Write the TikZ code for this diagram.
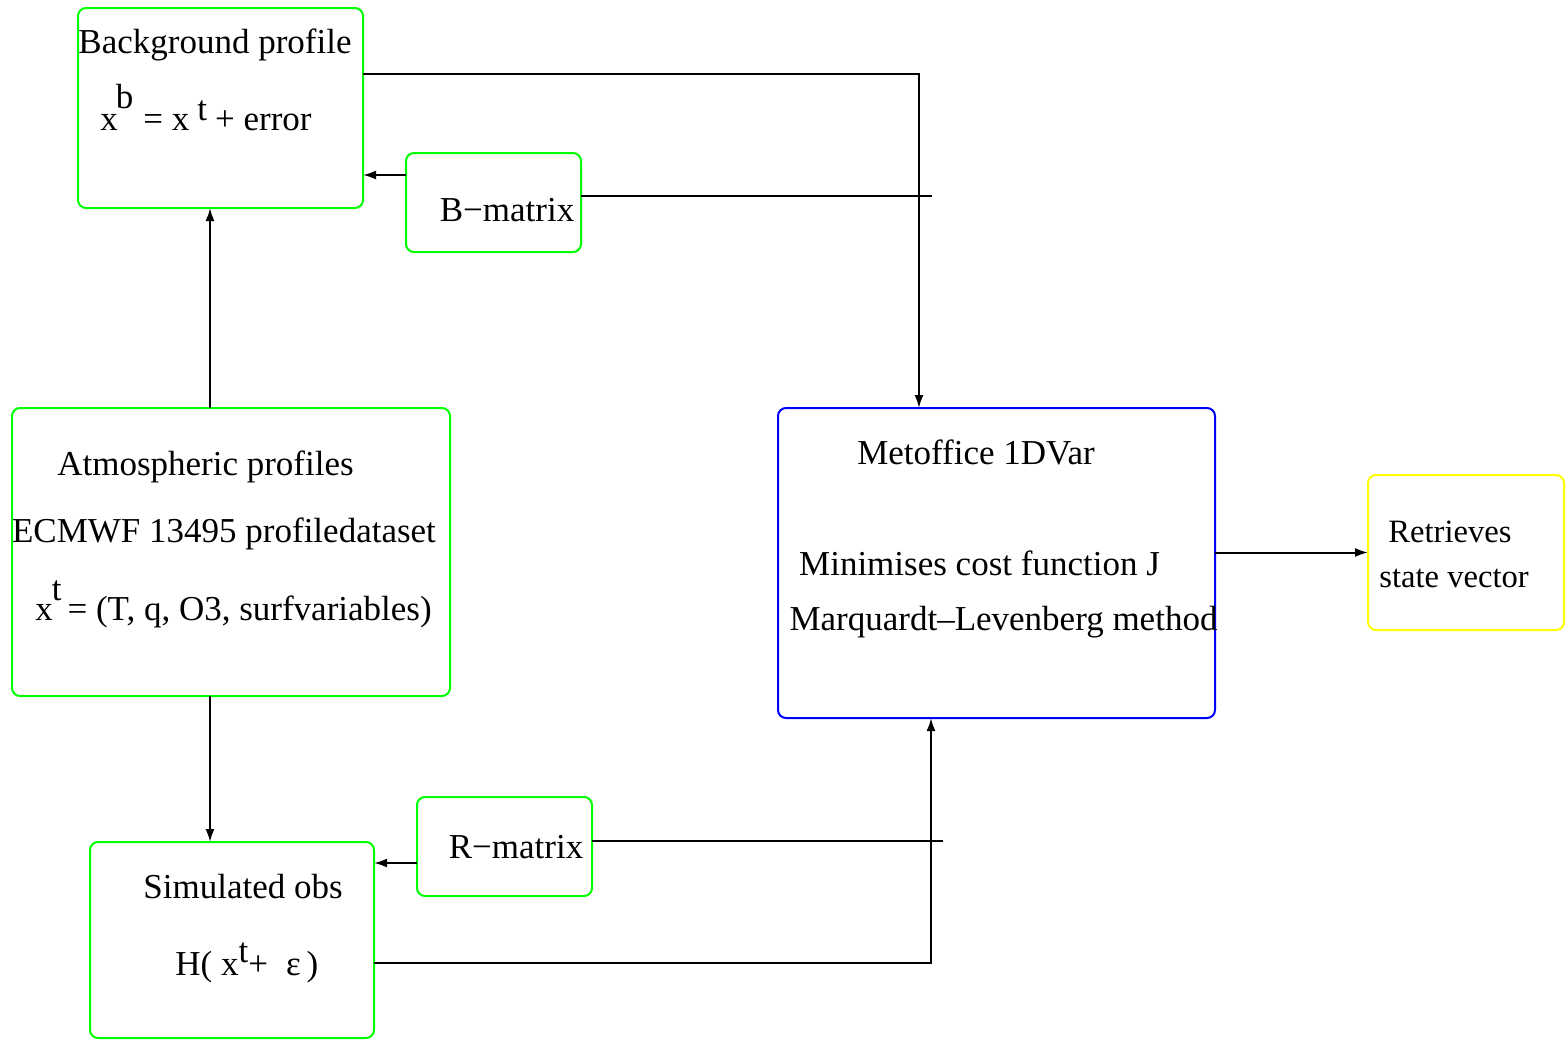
\documentclass[tikz,border=0pt]{standalone}
\usepackage{fontspec}
\setmainfont{Liberation Serif}
\usetikzlibrary{arrows.meta, calc}
\definecolor{boxgreen}{HTML}{00FF00}
\definecolor{boxblue}{HTML}{0000FF}
\definecolor{boxyellow}{HTML}{FFFF00}

\begin{document}
\begin{tikzpicture}[x=0.5pt, y=-0.5pt, >={Latex[length=6.5pt,width=4.5pt]}, every node/.style={font=\fontsize{17.5}{21}\selectfont}]
    \tikzstyle{panel} = [rectangle, draw=boxgreen, rounded corners=4pt, line width=1pt, inner sep=0pt, outer sep=0pt]
    \tikzstyle{solver} = [panel, draw=boxblue]
    \tikzstyle{result} = [panel, draw=boxyellow]
    \tikzstyle{txt} = [inner sep=0pt, anchor=base]

    \useasboundingbox (0,0) rectangle (1568,1039);

    % boxes
    \node [panel, minimum width=142.5pt, minimum height=100pt] (bg) at (220.5,108) {};
    \node [panel, minimum width=87.5pt, minimum height=49.5pt] (bmat) at (493.5,202.5) {};
    \node [panel, minimum width=219pt, minimum height=144pt] (atm) at (231,552) {};
    \node [panel, minimum width=142pt, minimum height=98pt] (sim) at (232,940) {};
    \node [panel, minimum width=87.5pt, minimum height=49.5pt] (rmat) at (504.5,846.5) {};
    \node [solver, minimum width=218.5pt, minimum height=155pt] (met) at (996.5,563) {};
    \node [result, minimum width=98pt, minimum height=77.5pt] (ret) at (1466,552.5) {};

    % texts
    \node [txt] (bgtitle) at (215,53) {Background profile};
    \node [txt, anchor=base west] (bgeq) at (100,130) {x\kern-1pt\raisebox{11pt}{b}\hspace{5pt}= x\hspace{4pt}\raisebox{5pt}{t}\hspace{4pt}+ error};
    \node [txt] (btext) at (507,221) {B−matrix};
    \node [txt] (atmtitle) at (205.5,475) {Atmospheric profiles};
    \node [txt] (atmdata) at (224,542) {ECMWF 13495 profiledataset};
    \node [txt, anchor=base west] (atmeq) at (35,620) {x\kern-0.5pt\raisebox{10pt}{t}\hspace{3pt}= (T, q, O3, surfvariables)};
    \node [txt] (simtitle) at (243,898) {Simulated obs};
    \node [txt, anchor=base west] (simeq) at (175,975) {H( x\raisebox{6.5pt}{t}+\hspace{9pt}ε\hspace{3pt})};
    \node [txt] (rtext) at (516,858) {R−matrix};
    \node [txt] (mettitle) at (976,464) {Metoffice 1DVar};
    \node [txt] (metcost) at (979.5,575) {Minimises cost function J};
    \node [txt] (metmethod) at (1003.5,630) {Marquardt–Levenberg method};
    \node [txt, font=\fontsize{16.3}{19}\selectfont] (rettop) at (1450,542) {Retrieves};
    \node [txt, font=\fontsize{16.3}{19}\selectfont] (retbot) at (1454,587) {state vector};

    \coordinate (bfree) at (932,196);
    \coordinate (rfree) at (943,841);

    % connectors
    \path [draw, ->, line width=1pt] ($(bg.north east)+(0,66)$) -| ($(met.north west)+(141,0)$);
    \path [draw, ->, line width=1pt] ($(bmat.north west)+(0,22)$) coordinate (bin) -- (bin -| bg.east);
    \path [draw, line width=1pt] (bmat.east |- bfree) -- (bfree);
    \path [draw, ->, line width=1pt] ($(atm.north)+(-21,0)$) coordinate (aup) -- (aup |- bg.south);
    \path [draw, ->, line width=1pt] ($(atm.south)+(-21,0)$) coordinate (adn) -- (adn |- sim.north);
    \path [draw, ->, line width=1pt] ($(rmat.north west)+(0,66)$) coordinate (rin) -- (rin -| sim.east);
    \path [draw, line width=1pt] (rmat.east |- rfree) -- (rfree);
    \path [draw, ->, line width=1pt] ($(sim.north east)+(0,121)$) -| ($(met.south west)+(153,0)$);
    \path [draw, ->, line width=1pt] (met.east |- ret.west) -- (ret.west);
\end{tikzpicture}
\end{document}
